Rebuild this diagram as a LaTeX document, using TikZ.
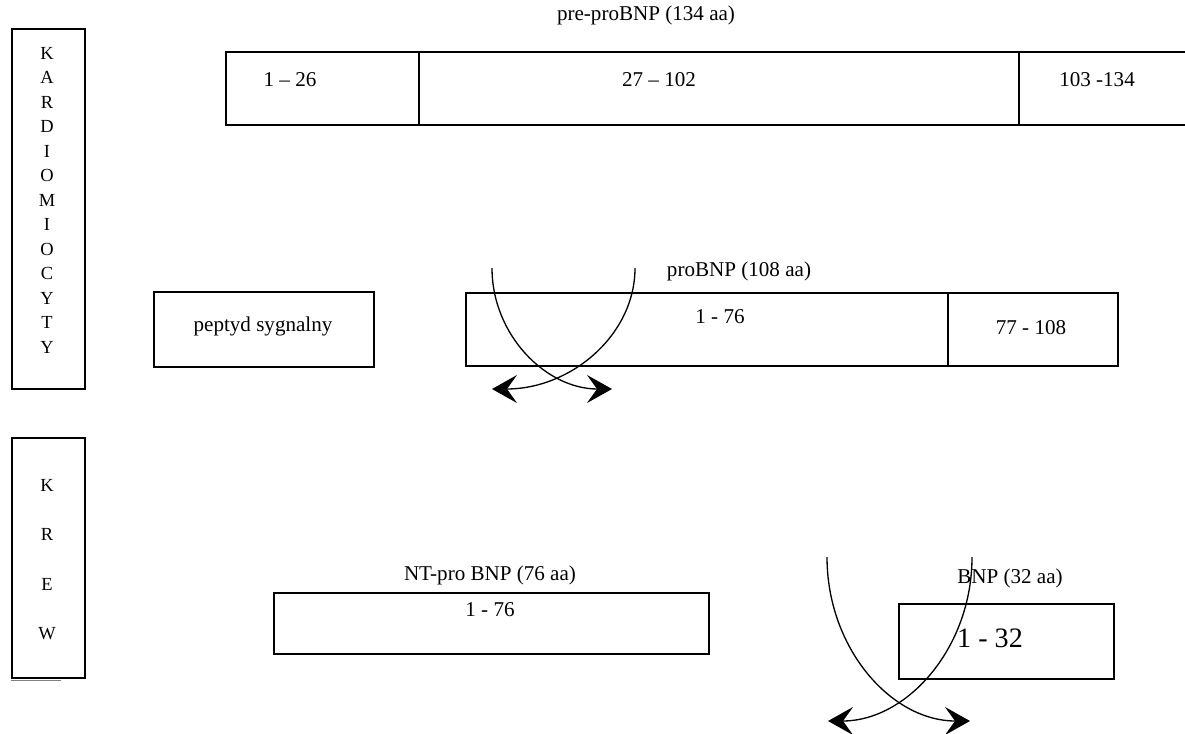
\documentclass[tikz,border=0pt]{standalone}
\usepackage{fontspec}
\setmainfont{Liberation Serif}
\usetikzlibrary{arrows.meta}

\begin{document}
\begin{tikzpicture}[x=0.02cm, y=-0.02cm,
            box/.style={draw, line width=1.1pt, inner sep=0pt, anchor=north west},
            txt/.style={font=\fontsize{12}{14}\selectfont, inner sep=0pt},
            side/.style={font=\fontsize{10.5}{12}\selectfont, inner sep=0pt},
            cut/.style={line width=0.75pt, -{Stealth[length=5mm, width=5.6mm, inset=2mm]}}
        ]
            \useasboundingbox (0,0) rectangle (1185,733);

            % Side labels
            \node[box, minimum width=1.46cm, minimum height=7.2cm] (kard) at (11,28) {};
            \foreach \l [count=\i from 0] in {K,A,R,D,I,O,M,I,O,C,Y,T,Y}
                \node[side] (kard\i) at (47,53+24.5*\i) {\l};
            \node[box, minimum width=1.46cm, minimum height=4.8cm] (krew) at (11,437) {};
            \foreach \l [count=\i from 0] in {K,R,E,W}
                \node[side] (krew\i) at (47,485+49.5*\i) {\l};
            \draw[gray, line width=0.6pt] (krew.south west) ++(0,2) -- ++(50,0);

            % pre-proBNP
            \node[txt] (pre) at (646,15) {pre-proBNP (134 aa)};
            \draw[line width=1.1pt] (1185,52) -- (226,52) -- (226,125) -- (1185,125);
            \draw[line width=0.6pt] (419,52) -- (419,125);
            \draw[line width=0.6pt] (1019,52) -- (1019,125);
            \node[txt] (pre1) at (290,80) {1 -- 26};
            \node[txt] (pre2) at (659,80) {27 -- 102};
            \node[txt] (pre3) at (1097,80) {103 -134};

            % proBNP
            \node[box, minimum width=4.4cm, minimum height=1.5cm] (sig) at (153,291) {};
            \node[txt] (sigt) at (263,326) {peptyd sygnalny};
            \node[txt] (pro) at (739,271) {proBNP (108 aa)};
            \node[box, minimum width=9.64cm, minimum height=1.46cm] (nt) at (465,292) {};
            \node[box, minimum width=3.4cm, minimum height=1.46cm] (ct) at (947,292) {};
            \node[txt] (ntt) at (720,317) {1 - 76};
            \node[txt] (ctt) at (1031,328) {77 - 108};

            % Cleavage of proBNP
            \coordinate (a1) at (492,268);
            \coordinate (a2) at (612,389);
            \coordinate (b1) at (635,268);
            \coordinate (b2) at (492,389);
            \draw[cut] (a1) .. controls (492,335) and (546,389) .. (a2);
            \draw[cut] (b1) .. controls (635,335) and (571,389) .. (b2);

            % Blood
            \node[txt] (ntpro) at (490,575) {NT-pro BNP (76 aa)};
            \node[box, minimum width=8.7cm, minimum height=1.22cm] (ntbox) at (273,592) {};
            \node[txt] (ntboxt) at (490,610) {1 - 76};
            \node[txt] (bnp) at (1010,578) {BNP (32 aa)};
            \node[box, minimum width=4.3cm, minimum height=1.5cm] (bnpbox) at (898,603) {};
            \node[txt, font=\fontsize{16}{18}\selectfont] (bnpt) at (990,638) {1 - 32};

            % Cleavage in blood
            \coordinate (c1) at (827,557);
            \coordinate (c2) at (970,721);
            \coordinate (d1) at (972,557);
            \coordinate (d2) at (828,721);
            \draw[cut] (c1) .. controls (827,648) and (891,721) .. (c2);
            \draw[cut] (d1) .. controls (972,648) and (907,721) .. (d2);
        \end{tikzpicture}
\end{document}
